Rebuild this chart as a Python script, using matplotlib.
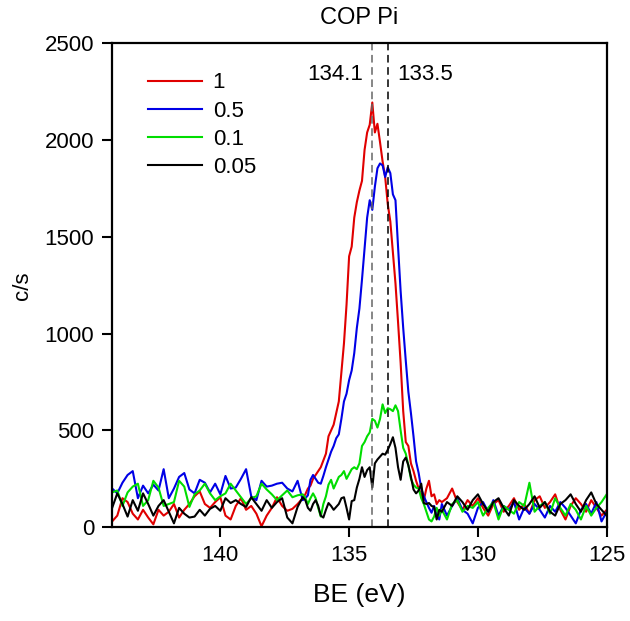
import numpy as np
import matplotlib
matplotlib.use('Agg')
import matplotlib.pyplot as plt

plt.rcParams['font.family'] = ['Liberation Sans', 'DejaVu Sans']

## binding energy grid (coarse on the baselines, finer across the peak)
be = np.concatenate([np.linspace(144.2, 137.0, 37),
                     np.linspace(136.8, 131.5, 54),
                     np.linspace(131.4, 125.0, 33)])

red = [30, 60, 150, 130, 70, 40, 90, 50, 15, 90, 60, 80, 120, 50, 90, 120, 160, 185, 120, 100,
       130, 155, 60, 40, 110, 150, 90, 110, 70, 5, 60, 100, 155, 110, 85, 95, 120,
       150, 170, 200, 215, 250, 270, 290, 310, 345, 380, 470, 500, 530, 590, 650, 800, 950, 1150,
       1400, 1450, 1600, 1680, 1740, 1790, 1950, 2040, 2080, 2195, 2040, 2085, 1990, 1890, 1810,
       1670, 1580, 1420, 1260, 1060, 850, 600, 440, 420, 330, 290, 240, 200, 170, 140, 200, 240,
       160, 170, 120, 140,
       130, 150, 200, 130, 90, 140, 110, 150, 100, 60, 120, 140, 80, 110, 150, 90, 120, 70, 140,
       160, 100, 130, 170, 90, 40, 110, 150, 120, 80, 140, 100, 60, 90]

blue = [200, 175, 230, 270, 290, 150, 215, 175, 220, 190, 300, 150, 200, 260, 280, 195, 175, 245,
        230, 180, 225, 170, 265, 200, 205, 250, 300, 160, 140, 240, 210, 215, 225, 230, 200, 185, 240,
        140, 150, 165, 245, 270, 250, 230, 225, 265, 310, 350, 390, 420, 460, 480, 560, 650, 690,
        760, 810, 900, 1030, 1130, 1280, 1440, 1600, 1690, 1640, 1760, 1855, 1880, 1870, 1810, 1860,
        1830, 1720, 1690, 1450, 1220, 1030, 860, 700, 590, 470, 340, 280, 200, 160, 130, 100, 75,
        110, 60, 40,
        120, 60, 110, 150, 90, 70, 20, 100, 130, 80, 140, 60, 110, 90, 130, 40, 100, 70, 120, 90,
        50, 110, 80, 130, 100, 60, 20, 90, 120, 70, 130, 30, 80]

green = [180, 190, 110, 180, 210, 225, 110, 140, 240, 205, 110, 120, 130, 240, 210, 105, 170, 190,
         225, 175, 140, 160, 175, 225, 190, 155, 120, 150, 160, 225, 195, 170, 140, 165, 190, 155, 165,
         170, 150, 120, 150, 175, 150, 100, 55, 120, 160, 220, 245, 200, 230, 260, 270, 290, 250,
         275, 300, 310, 300, 330, 420, 440, 470, 490, 560, 550, 515, 560, 635, 590, 615, 610, 600,
         630, 600, 500, 410, 380, 320, 250, 220, 205, 200, 150, 120, 80, 40, 30, 55, 100, 60,
         90, 40, 120, 140, 80, 110, 100, 130, 60, 100, 130, 40, 110, 90, 70, 130, 110, 230, 80, 110,
         130, 70, 150, 100, 60, 120, 90, 40, 110, 60, 100, 130, 170]

black = [100, 175, 120, 55, 140, 85, 175, 120, 60, 110, 140, 80, 20, 100, 70, 50, 55, 90, 60, 95,
         110, 85, 150, 125, 140, 120, 105, 155, 120, 85, 140, 100, 130, 150, 50, 20, 105,
         155, 140, 100, 85, 120, 140, 110, 60, 50, 90, 125, 110, 90, 105, 120, 150, 155, 100, 40,
         135, 140, 205, 250, 310, 260, 295, 310, 205, 330, 350, 365, 380, 375, 400, 430, 465, 410,
         310, 245, 340, 360, 320, 260, 195, 175, 190, 225, 125, 120, 125, 110, 105, 40, 90,
         80, 130, 110, 160, 130, 90, 140, 170, 120, 80, 130, 150, 100, 60, 140, 110, 90, 120, 160,
         100, 130, 80, 60, 120, 140, 170, 120, 80, 140, 180, 120, 90, 60]

series = [('1', red, '#e00000'), ('0.5', blue, '#0000e6'),
          ('0.1', green, '#00dd00'), ('0.05', black, 'black')]

peak_pos = [134.1, 133.5]

fig = plt.figure(figsize=(6.3, 6.21), dpi=100)
ax = fig.add_axes([0.178, 0.151, 0.785, 0.779])

for lab, y, c in series:
    ax.plot(be, y, color=c, lw=1.5, label=lab)

# x axis is reversed: larger BE sits to the left
ax.axvline(peak_pos[0], color='#666666', ls=(0, (5, 3)), lw=1.1)
ax.axvline(peak_pos[1], color='black', ls=(0, (5, 3)), lw=1.1)
ax.text(peak_pos[0] + 0.35, 2340, '134.1', ha='right', va='center', fontsize=16)
ax.text(peak_pos[1] - 0.35, 2340, '133.5', ha='left', va='center', fontsize=16)

ax.set_xlim(144.2, 125)
ax.set_ylim(0, 2500)
ax.set_xticks([140, 135, 130, 125])
ax.set_yticks([0, 500, 1000, 1500, 2000, 2500])
ax.tick_params(direction='out', length=7, width=1.5, labelsize=16, pad=6)
for s in ax.spines.values():
    s.set_linewidth(1.6)

ax.set_xlabel('BE (eV)', fontsize=19, labelpad=12)
ax.set_ylabel('c/s', fontsize=16, labelpad=8)
ax.set_title('COP Pi', fontsize=17, pad=14)

ax.legend(loc='upper left', bbox_to_anchor=(0.073, 0.94), frameon=False, fontsize=16,
          handlelength=2.4, handletextpad=0.5, labelspacing=0.32, borderpad=0, borderaxespad=0)

fig.savefig('out.png', dpi=100)
